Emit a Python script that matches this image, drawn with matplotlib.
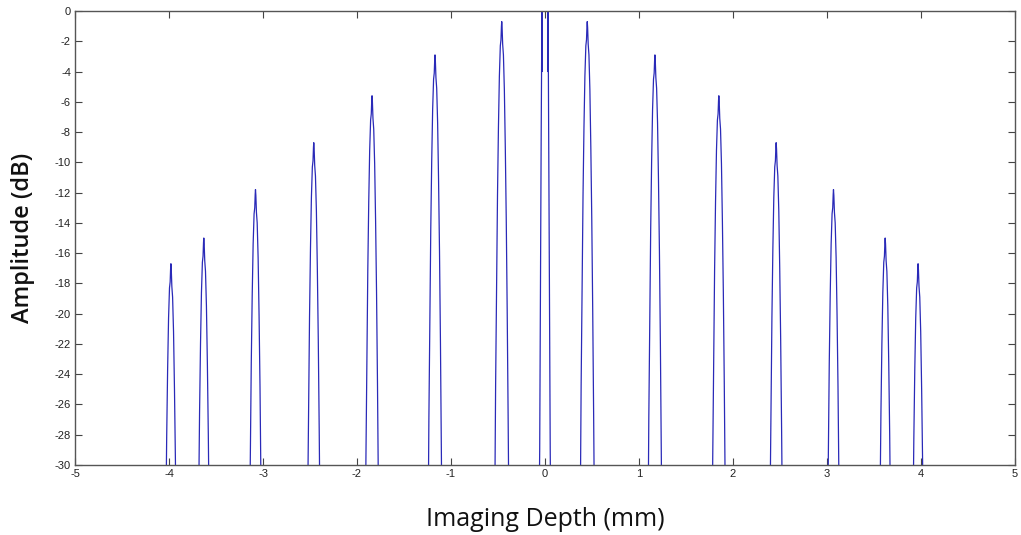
import numpy as np
import matplotlib
matplotlib.use("Agg")
import matplotlib.pyplot as plt

plt.rcParams["axes.unicode_minus"] = False

# Peak centres (mm) and peak amplitudes (dB)
peak_pos = [-3.98, -3.63, -3.08, -2.46, -1.84, -1.17, -0.46,
            0.45, 1.17, 1.85, 2.46, 3.07, 3.62, 3.97]
peak_amp = [-16.7, -15.0, -11.8, -8.7, -5.6, -2.9, -0.7,
            -0.7, -2.9, -5.6, -8.7, -11.8, -15.0, -16.7]

# Common side-peak shape: offset from centre (mm) and drop below peak (dB)
prof_off = [-0.085, -0.075, -0.065, -0.055, -0.045, -0.035, -0.025, -0.015, -0.008, -0.003, 0.0,
            0.004, 0.010, 0.018, 0.028, 0.038, 0.048, 0.058, 0.068, 0.078, 0.088]
prof_drop = [42, 33, 24, 17.5, 11.5, 7.0, 3.6, 1.6, 1.2, 0.3, 0.0,
             0.4, 1.5, 2.2, 4.5, 8.3, 13.0, 19.0, 26.0, 34.0, 44.0]

# Main (zero-depth) peak, clipped at 0 dB (overlapping traces near its edges)
centre_off = [-0.075, -0.062, -0.056, -0.048, -0.040, -0.034, -0.030, -0.031, -0.026,
              -0.015, 0.0, 0.015, 0.027, 0.031, 0.030, 0.034, 0.040, 0.048, 0.056, 0.062, 0.075]
centre_val = [-45, -33, -29, -18, -8, -1, 2, -4, 4,
              6, 6, 6, 4, -4, 2, -1, -9, -19, -29, -34, -45]

floor_val = -60.0

xs, ys = [-5.0], [floor_val]
peaks = sorted([(p, a, False) for p, a in zip(peak_pos, peak_amp)] + [(0.0, 0.0, True)])
for p, a, is_c in peaks:
    if is_c:
        xs += [p + o for o in centre_off]
        ys += list(centre_val)
    else:
        xs += [p + o for o in prof_off]
        ys += [a - d for d in prof_drop]
xs.append(5.0)
ys.append(floor_val)

fig = plt.figure(figsize=(10.21, 5.35), dpi=100)
ax = fig.add_axes([0.0735, 0.1308, 0.9205, 0.8486])
ax.plot(xs, ys, color="#2a2ab8", lw=0.9)

ax.set_xlim(-5, 5)
ax.set_ylim(-30, 0)
ax.set_xticks(np.arange(-5, 6, 1))
ax.set_yticks(np.arange(-30, 1, 2))
ax.tick_params(direction="in", length=5, width=0.8, colors="#444444",
               labelsize=8, top=True, right=True, labelcolor="#222222", pad=3)
for lab in ax.get_xticklabels() + ax.get_yticklabels():
    lab.set_family("Liberation Sans")
for s in ax.spines.values():
    s.set_color("#555555")
    s.set_linewidth(1.0)

ax.set_xlabel("Imaging Depth (mm)", fontsize=18, family="Open Sans", color="#111111", labelpad=20)
ax.set_ylabel("Amplitude (dB)", fontsize=17, family="Open Sans", fontweight="semibold",
              color="#111111", labelpad=14)

fig.savefig("out.png", dpi=100)
